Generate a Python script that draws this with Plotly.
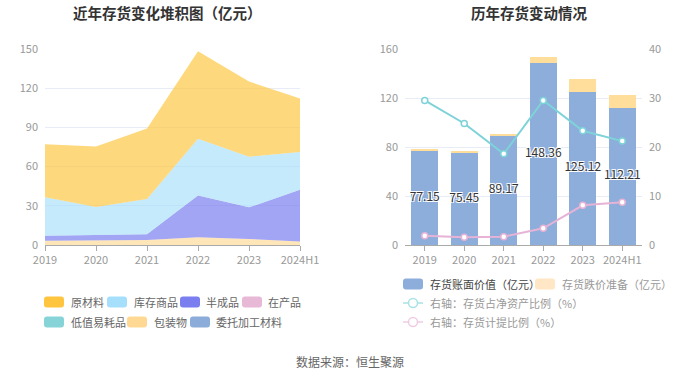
import plotly.graph_objects as go

years = ["2019", "2020", "2021", "2022", "2023", "2024H1"]

# Left: stacked composition (亿元)
raw_material = [40.65, 46.35, 53.97, 66.96, 57.52, 41.01]   # 原材料
goods_stock = [29.40, 21.70, 27.00, 43.60, 38.80, 28.90]    # 库存商品
semi_finished = [3.80, 3.80, 4.40, 31.90, 24.20, 39.70]     # 半成品
in_process = [0, 0, 0, 0, 0, 0]                             # 在产品
low_value = [0, 0, 0, 0, 0, 0]                              # 低值易耗品
packaging = [3.30, 3.60, 3.80, 5.90, 4.60, 2.60]            # 包装物
consigned = [0, 0, 0, 0, 0, 0]                              # 委托加工材料

# Right: bars and ratios
book_value = [77.15, 75.45, 89.17, 148.36, 125.12, 112.21]  # 存货账面价值
impairment = [1.2, 1.0, 1.4, 5.1, 10.7, 10.5]               # 存货跌价准备
net_asset_ratio = [29.5, 24.8, 18.6, 29.5, 23.3, 21.2]      # 存货占净资产比例 %
provision_ratio = [1.9, 1.6, 1.7, 3.4, 8.1, 8.7]            # 存货计提比例 %

FONT = "Noto Sans CJK SC, Noto Sans, sans-serif"
W, H = 700, 378

def px(x):
    return x / W

def py(y):
    return 1 - y / H

fig = go.Figure()

xi = list(range(len(years)))
area_series = [
    ("委托加工材料", consigned, "rgba(141,172,218,0.7)"),
    ("包装物", packaging, "rgba(255,217,147,0.65)"),
    ("低值易耗品", low_value, "rgba(134,212,216,0.7)"),
    ("在产品", in_process, "rgba(232,183,214,0.7)"),
    ("半成品", semi_finished, "rgba(122,125,239,0.7)"),
    ("库存商品", goods_stock, "rgba(165,223,251,0.65)"),
    ("原材料", raw_material, "rgba(253,197,64,0.68)"),
]
for name, vals, col in area_series:
    fig.add_trace(go.Scatter(
        x=xi, y=vals, name=name, mode="lines", stackgroup="one",
        line=dict(width=0, color=col), fillcolor=col, showlegend=False,
        xaxis="x", yaxis="y", hoverinfo="skip"))

fig.add_trace(go.Bar(x=years, y=book_value, name="存货账面价值（亿元）",
                     marker=dict(color="#8DADDB", line=dict(width=0)),
                     width=0.68, xaxis="x2", yaxis="y2", showlegend=False))
fig.add_trace(go.Bar(x=years, y=impairment, name="存货跌价准备（亿元）",
                     marker=dict(color="#FFDE9C", line=dict(width=0)),
                     width=0.68, xaxis="x2", yaxis="y2", showlegend=False))
fig.add_trace(go.Scatter(
    x=years, y=[v / 2 for v in book_value], mode="text",
    text=[f"{v:.2f}" for v in book_value],
    textfont=dict(size=12, color="#333333", family=FONT,
                  shadow="1px 1px 0 #fff, -1px -1px 0 #fff, 1px -1px 0 #fff, -1px 1px 0 #fff"),
    xaxis="x2", yaxis="y2", showlegend=False, hoverinfo="skip", cliponaxis=False))
fig.add_trace(go.Scatter(
    x=years, y=net_asset_ratio, mode="lines+markers",
    line=dict(color="#7ED3D8", width=2),
    marker=dict(symbol="circle", size=6, color="white", line=dict(color="#7ED3D8", width=1.5)),
    xaxis="x2", yaxis="y3", showlegend=False, cliponaxis=False))
fig.add_trace(go.Scatter(
    x=years, y=provision_ratio, mode="lines+markers",
    line=dict(color="#E6B3D6", width=2),
    marker=dict(symbol="circle", size=6, color="white", line=dict(color="#E6B3D6", width=1.5)),
    xaxis="x2", yaxis="y3", showlegend=False, cliponaxis=False))

tickfont = dict(size=11, color="#999999", family=FONT)
grid = "#E8ECF6"
top, bottom = 49, 245

fig.update_layout(
    width=W, height=H, margin=dict(l=0, r=0, t=0, b=0, autoexpand=False),
    paper_bgcolor="white", plot_bgcolor="white",
    font=dict(family=FONT), barmode="stack", bargap=0.32,
    xaxis=dict(domain=[px(45), px(300)], range=[0, 5], tickvals=xi, ticktext=years,
               showgrid=False, zeroline=False, showline=True, linecolor="#AAAAAA",
               ticks="outside", ticklen=5, tickcolor="#AAAAAA", tickfont=tickfont,
               anchor="y", automargin=False, ticklabelstandoff=0),
    yaxis=dict(domain=[py(bottom), py(top)], range=[0, 150], tickvals=[0, 30, 60, 90, 120, 150],
               showgrid=True, gridcolor=grid, zeroline=False, showline=False,
               tickfont=tickfont, anchor="x", automargin=False, ticklabelstandoff=6),
    xaxis2=dict(domain=[px(405), px(642)], range=[-0.5, 5.5], type="category",
                showgrid=False, zeroline=False, showline=True, linecolor="#AAAAAA",
                ticks="outside", ticklen=5, tickcolor="#AAAAAA", tickfont=tickfont,
                anchor="y2", automargin=False, ticklabelstandoff=0),
    yaxis2=dict(domain=[py(bottom), py(top)], range=[0, 160], tickvals=[0, 40, 80, 120, 160],
                showgrid=True, gridcolor=grid, zeroline=False, showline=False,
                tickfont=tickfont, anchor="x2", automargin=False, ticklabelstandoff=6),
    yaxis3=dict(range=[0, 40], tickvals=[0, 10, 20, 30, 40], overlaying="y2", side="right",
                showgrid=False, zeroline=False, showline=False, tickfont=tickfont,
                anchor="x2", automargin=False, ticklabelstandoff=6),
)

annotations = []
shapes = []

def text(x, y, s, size=11, color="#666666", anchor="left", bold=False):
    annotations.append(dict(
        x=px(x), y=py(y), xref="paper", yref="paper", text=f"<b>{s}</b>" if bold else s,
        showarrow=False, xanchor=anchor, yanchor="middle",
        font=dict(size=size, color=color, family=FONT)))

def swatch(x, y, color, w=20, h=11, r=3):
    x0, x1 = x, x + w
    y0, y1 = y - h / 2, y + h / 2
    pts = (f"M {px(x0 + r)} {py(y0)} L {px(x1 - r)} {py(y0)} "
           f"Q {px(x1)} {py(y0)} {px(x1)} {py(y0 + r)} L {px(x1)} {py(y1 - r)} "
           f"Q {px(x1)} {py(y1)} {px(x1 - r)} {py(y1)} L {px(x0 + r)} {py(y1)} "
           f"Q {px(x0)} {py(y1)} {px(x0)} {py(y1 - r)} L {px(x0)} {py(y0 + r)} "
           f"Q {px(x0)} {py(y0)} {px(x0 + r)} {py(y0)} Z")
    shapes.append(dict(type="path", path=pts, xref="paper", yref="paper",
                       fillcolor=color, line=dict(width=0)))

def line_marker(x, y, color):
    shapes.append(dict(type="line", x0=px(x), x1=px(x + 20), y0=py(y), y1=py(y),
                       xref="paper", yref="paper", line=dict(color=color, width=1.5)))
    shapes.append(dict(type="circle", x0=px(x + 5.5), x1=px(x + 14.5), y0=py(y - 4.5),
                       y1=py(y + 4.5), xref="paper", yref="paper", fillcolor="white",
                       line=dict(color=color, width=1.5)))

# Titles
text(167, 12, "近年存货变化堆积图（亿元）", size=14.5, color="#333333", anchor="center", bold=True)
text(529, 12, "历年存货变动情况", size=14.5, color="#333333", anchor="center", bold=True)

# Left legend
left_items = [
    (44, 69, 302, "原材料", "#FFC53F"),
    (107, 132, 302, "库存商品", "#A6DFFB"),
    (180, 204, 302, "半成品", "#7B7EEF"),
    (242, 266, 302, "在产品", "#E8B8D7"),
    (44, 69, 322, "低值易耗品", "#86D4D8"),
    (127, 152, 322, "包装物", "#FFD993"),
    (190, 214, 322, "委托加工材料", "#8CACDA"),
]
for sx, tx, y, name, col in left_items:
    swatch(sx, y, col)
    text(tx, y, name)

# Right legend
swatch(403, 284, "#8DADDB")
text(428, 284, "存货账面价值（亿元）", color="#444444")
swatch(535, 284, "#FFE6C4")
text(560, 284, "存货跌价准备（亿元）", color="#999999")
line_marker(403, 303, "#A8E2E5")
text(428, 303, "右轴：存货占净资产比例（%）", color="#999999")
line_marker(403, 322, "#F0CCE4")
text(428, 322, "右轴：存货计提比例（%）", color="#999999")

# Source
text(350, 361, "数据来源：恒生聚源", size=12, color="#666666", anchor="center")

fig.update_layout(annotations=annotations, shapes=shapes)
fig.write_html("out.html", config={"displayModeBar": False},
               post_script="document.body.style.margin='0';document.body.style.overflow='hidden';")
